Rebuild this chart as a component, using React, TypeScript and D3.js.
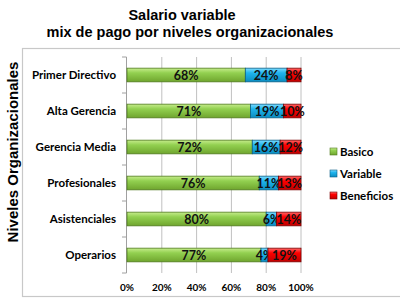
import React from "react";
import * as d3 from "d3";

const categories = ["Primer Directivo", "Alta Gerencia", "Gerencia Media", "Profesionales", "Asistenciales", "Operarios"];
const seriesNames = ["Basico", "Variable", "Beneficios"];
const basico = [68, 71, 72, 76, 80, 77];
const variable = [24, 19, 16, 11, 6, 4];
const beneficios = [8, 10, 12, 13, 14, 19];
const xTicks = [0, 20, 40, 60, 80, 100];

const colors = [
  { light: "#c6ec8c", mid: "#92d050", dark: "#6fa52e", stroke: "#4f7a1e" },
  { light: "#7fdcff", mid: "#1fb4ee", dark: "#0a8cc0", stroke: "#0b5f86" },
  { light: "#ff6a6a", mid: "#ff0000", dark: "#c00000", stroke: "#7a0000" },
];

export default function App() {
  const W = 400, H = 300;
  const x = d3.scaleLinear().domain([0, 100]).range([127, 301]);
  const y = d3.scaleBand().domain(categories).range([57, 273]).paddingInner(0.62).paddingOuter(0.31);
  const series = [basico, variable, beneficios];
  const stackData = categories.map((c, i) => ({ c, v: series.map((s) => s[i]) }));
  const font = "Lato, 'Open Sans', sans-serif";
  const bandStep = y.step();

  return (
    <svg width={W} height={H} style={{ position: "absolute", left: 0, top: 0 }}>
      <defs>
        {colors.map((c, i) => (
          <linearGradient key={i} id={`g${i}`} x1="0" y1="0" x2="0" y2="1">
            <stop offset="0%" stopColor={c.light} />
            <stop offset="35%" stopColor={c.mid} />
            <stop offset="100%" stopColor={c.dark} />
          </linearGradient>
        ))}
      </defs>
      <rect x={0} y={0} width={W} height={H} fill="#fff" />
      <rect x={22.5} y={48.5} width={390} height={248} fill="#fff" stroke="#c8c8c8" strokeWidth={1.2} />
      <text x={182} y={20} textAnchor="middle" fontFamily="Arial, 'Liberation Sans', sans-serif" fontWeight="bold" fontSize={14.5}>Salario variable</text>
      <text x={190} y={37} textAnchor="middle" fontFamily="Arial, 'Liberation Sans', sans-serif" fontWeight="bold" fontSize={14.5}>mix de pago por niveles organizacionales</text>
      <text transform="translate(17.5,152) rotate(-90)" textAnchor="middle" fontFamily="Arial, 'Liberation Sans', sans-serif" fontWeight="bold" fontSize={15}>Niveles Organizacionales</text>
      {xTicks.map((t) => (
        <g key={t}>
          {t > 0 && <line x1={x(t)} x2={x(t)} y1={57} y2={273} stroke="#c0c0c0" strokeWidth={1} />}
          <text x={x(t)} y={291} textAnchor="middle" fontFamily={font} fontWeight="bold" fontSize={10}>{t}%</text>
        </g>
      ))}
      <line x1={126.5} x2={126.5} y1={57} y2={273} stroke="#a0a0a0" />
      {d3.range(categories.length + 1).map((i) => (
        <line key={i} x1={122} x2={126.5} y1={57 + i * bandStep} y2={57 + i * bandStep} stroke="#a0a0a0" />
      ))}
      {stackData.map((d) => {
        let acc = 0;
        const yy = y(d.c)!;
        return (
          <g key={d.c}>
            <text x={116} y={yy + y.bandwidth() / 2 + 4} textAnchor="end" fontFamily={font} fontWeight="bold" fontSize={11.5}>{d.c}</text>
            {d.v.map((v, j) => {
              const x0 = x(acc);
              acc += v;
              const x1 = x(acc);
              return (
                <g key={j}>
                  <rect x={x0} y={yy} width={x1 - x0} height={y.bandwidth()} fill={`url(#g${j})`} stroke={colors[j].stroke} strokeWidth={0.8} />
                  <text x={(x0 + x1) / 2} y={yy + y.bandwidth() / 2 + 4.5} textAnchor="middle" fontFamily={font} fontWeight="bold" fontSize={12.5} fill="#111">{v}%</text>
                </g>
              );
            })}
          </g>
        );
      })}
      {seriesNames.map((s, i) => (
        <g key={s} transform={`translate(330,${152 + i * 22})`}>
          <rect x={0} y={-4} width={7} height={7} fill={`url(#g${i})`} stroke={colors[i].stroke} strokeWidth={0.6} />
          <text x={10} y={3.5} fontFamily={font} fontWeight="bold" fontSize={11.5}>{s}</text>
        </g>
      ))}
    </svg>
  );
}
